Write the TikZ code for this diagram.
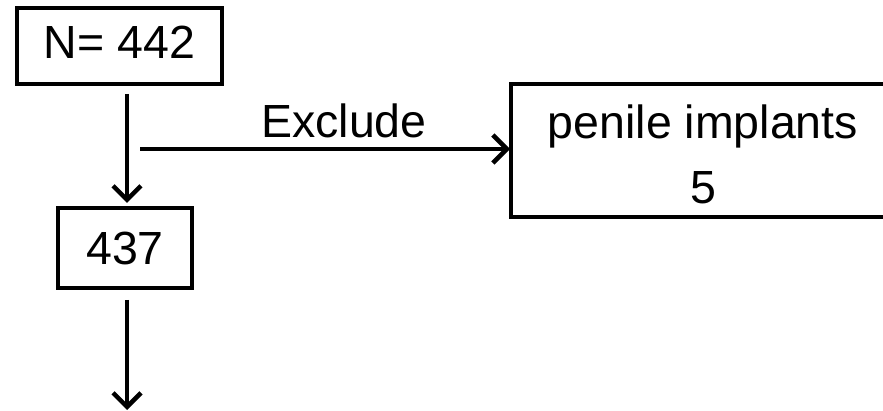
\documentclass[tikz,border=0pt]{standalone}
\usepackage{fontspec}
\setmainfont{Liberation Sans}
\usetikzlibrary{arrows.meta}
\begin{document}
\begin{tikzpicture}[x=1pt,y=-1pt,
  box/.style={draw,line width=4.5pt,inner sep=0pt,font=\fontsize{46.5}{65}\selectfont,align=center},
  arr/.style={line width=4.5pt,-{Straight Barb[length=14pt,width=28pt]}},
  lbl/.style={font=\fontsize{46.5}{54}\selectfont,inner sep=0pt}]
\clip (0,0) rectangle (883,411);
\fill[white] (0,0) rectangle (883,411);
\node[box,minimum width=205pt,minimum height=76pt] (n) at (119.5,46) {\strut N= 442};
\node[box,minimum width=134pt,minimum height=80pt] (m) at (125,248) {437};
\node[box,minimum width=384pt,minimum height=133pt] (pen) at (703,150.5) {\raisebox{-4pt}[\height][\depth]{penile implants}\\[0pt]\raisebox{-4pt}[\height][\depth]{5}};
\node[lbl] (ex) at (344,121) {Exclude};
\coordinate (a1) at (127,94);
\coordinate (a2) at (127,203);
\coordinate (b1) at (140,149);
\coordinate (b2) at (510,149);
\coordinate (c1) at (127,300);
\coordinate (c2) at (127,410);
\draw[arr] (a1) -- (a2);
\draw[arr] (b1) -- (b2);
\draw[arr] (c1) -- (c2);
\end{tikzpicture}
\end{document}
